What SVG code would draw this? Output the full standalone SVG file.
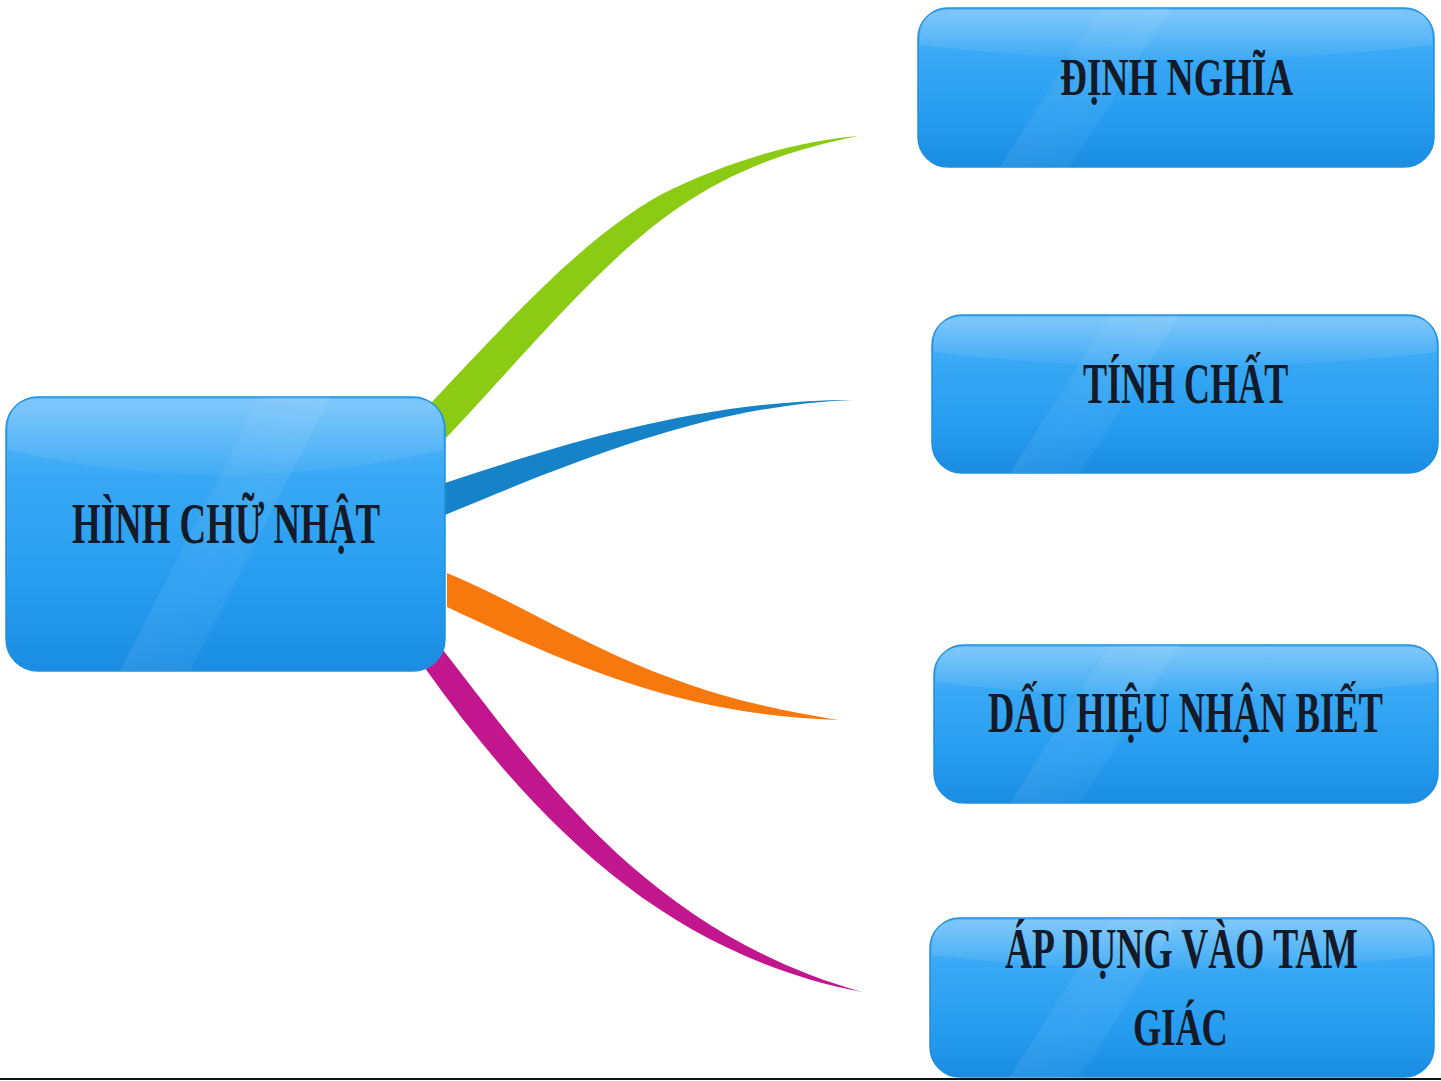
<svg xmlns="http://www.w3.org/2000/svg" width="1441" height="1081" viewBox="0 0 1441 1081">
<defs>
<linearGradient id="btn" x1="0" y1="0" x2="0" y2="1">
<stop offset="0" stop-color="#5cb8f9"/>
<stop offset="0.3" stop-color="#38a8f4"/>
<stop offset="0.7" stop-color="#269cf0"/>
<stop offset="1" stop-color="#1a8de2"/>
</linearGradient>
<linearGradient id="gloss" x1="0" y1="0" x2="0" y2="1">
<stop offset="0" stop-color="#ffffff" stop-opacity="0.22"/>
<stop offset="1" stop-color="#ffffff" stop-opacity="0.04"/>
</linearGradient>
<linearGradient id="streak" x1="0" y1="0" x2="1" y2="1">
<stop offset="0" stop-color="#ffffff" stop-opacity="0"/>
<stop offset="0.5" stop-color="#ffffff" stop-opacity="0.07"/>
<stop offset="1" stop-color="#ffffff" stop-opacity="0"/>
</linearGradient>
</defs>
<style>
.box{fill:url(#btn);stroke:#2290dc;stroke-width:1.5}
.gl{fill:url(#gloss)}
.st{fill:url(#streak)}
.lbl{font-family:"Liberation Serif","Times New Roman",serif;font-size:56px;font-weight:bold;fill:#141a28}
</style>
<rect x="0" y="0" width="1441" height="1081" fill="#ffffff"/>
<g id="connectors">
<path d="M 432,402 C 500,330 580,240 660,195 C 740,155 810,140 858,136 C 800,148 740,165 675,210 C 600,262 520,360 446,438 Z" fill="#8ccb14"/>
<path d="M 445,483 C 560,445 700,400 853,400 C 720,405 600,450 445,515 Z" fill="#1683c8"/>
<path d="M 447,573 C 560,620 640,690 838,720 C 680,715 570,665 447,607 Z" fill="#f7780c"/>
<path d="M 443,650 C 530,760 640,930 862,992 C 670,955 540,830 425,668 Z" fill="#c2168f"/>
</g>
<g id="center">
<rect class="box" x="6" y="397" width="439" height="274" rx="32"/>
<path class="gl" d="M 38,399 H 413 Q 443,399 443,429 V 450 Q 225,500 8,450 V 429 Q 8,399 38,399 Z"/>
<path class="st" d="M 120,671 L 260,397 L 330,397 L 190,671 Z"/>
<g transform="translate(72,543) scale(0.62,1)"><text class="lbl" x="0" y="0" textLength="497" lengthAdjust="spacingAndGlyphs">HÌNH CHỮ NHẬT</text></g>
</g>
<g id="n1">
<rect class="box" x="918" y="8" width="516" height="159" rx="30"/>
<path class="gl" d="M 948,10 H 1404 Q 1432,10 1432,38 V 45 Q 1176,75 920,45 V 38 Q 920,10 948,10 Z"/>
<path class="st" d="M 1000,167 L 1100,8 L 1170,8 L 1070,167 Z"/>
<g transform="translate(1060,95) scale(0.62,1)"><text class="lbl" x="0" y="0" textLength="376" lengthAdjust="spacingAndGlyphs" style="font-size:52px">ĐỊNH NGHĨA</text></g>
</g>
<g id="n2">
<rect class="box" x="932" y="315" width="506" height="158" rx="30"/>
<path class="gl" d="M 962,317 H 1408 Q 1436,317 1436,345 V 352 Q 1185,382 934,352 V 345 Q 934,317 962,317 Z"/>
<path class="st" d="M 1010,473 L 1110,315 L 1180,315 L 1080,473 Z"/>
<g transform="translate(1083,403) scale(0.62,1)"><text class="lbl" x="0" y="0" textLength="331" lengthAdjust="spacingAndGlyphs">TÍNH CHẤT</text></g>
</g>
<g id="n3">
<rect class="box" x="934" y="645" width="504" height="158" rx="30"/>
<path class="gl" d="M 964,647 H 1408 Q 1436,647 1436,675 V 682 Q 1186,712 936,682 V 675 Q 936,647 964,647 Z"/>
<path class="st" d="M 1010,803 L 1110,645 L 1180,645 L 1080,803 Z"/>
<g transform="translate(988,732) scale(0.62,1)"><text class="lbl" x="0" y="0" textLength="637" lengthAdjust="spacingAndGlyphs">DẤU HIỆU NHẬN BIẾT</text></g>
</g>
<g id="n4">
<rect class="box" x="930" y="918" width="504" height="159" rx="30"/>
<path class="gl" d="M 960,920 H 1404 Q 1432,920 1432,948 V 955 Q 1182,985 932,955 V 948 Q 932,920 960,920 Z"/>
<path class="st" d="M 1010,1077 L 1110,918 L 1180,918 L 1080,1077 Z"/>
<g transform="translate(1005,968) scale(0.62,1)"><text class="lbl" x="0" y="0" textLength="569" lengthAdjust="spacingAndGlyphs">ÁP DỤNG VÀO TAM</text></g>
<g transform="translate(1133,1045) scale(0.62,1)"><text class="lbl" x="0" y="0" textLength="153" lengthAdjust="spacingAndGlyphs" style="font-size:52px">GIÁC</text></g>
</g>
<rect x="0" y="1078" width="1441" height="2" fill="#111111"/>
</svg>
